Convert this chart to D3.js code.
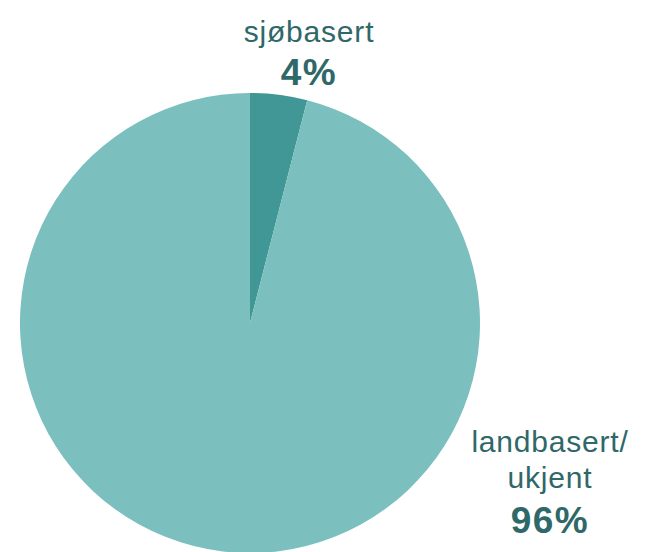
<!DOCTYPE html>
<html>
<head>
<meta charset="utf-8">
<script src="https://cdn.jsdelivr.net/npm/d3@7"></script>
<style>
  html, body { margin: 0; padding: 0; background: #fff; }
  svg { display: block; }
</style>
</head>
<body>
<svg id="chart" width="646" height="552"></svg>
<script>
const categories = ["sjøbasert", "landbasert/ukjent"];
const values = [4, 96];
const labelLines = [["sjøbasert"], ["landbasert/", "ukjent"]];
const percentLabels = ["4%", "96%"];
const colors = ["#419696", "#7bbfbf"];

const svg = d3.select("#chart");
const cx = 250, cy = 323, r = 230;

const pie = d3.pie().sort(null).value(d => d)(values);
const arc = d3.arc().innerRadius(0).outerRadius(r);
const color = d3.scaleOrdinal().domain(categories).range(colors);

const g = svg.append("g").attr("transform", `translate(${cx},${cy})`);
g.selectAll("path").data(pie).join("path")
  .attr("d", arc)
  .attr("fill", (d, i) => color(categories[i]));

const textColor = "#2f6868";
const labelPos = [
  { x: 309, lines: [42], pct: 85 },
  { x: 550, lines: [452, 488], pct: 533 }
];

labelPos.forEach((p, i) => {
  labelLines[i].forEach((t, j) => {
    svg.append("text")
      .attr("x", p.x).attr("y", p.lines[j])
      .attr("text-anchor", "middle")
      .style("font-family", "'Liberation Sans', Arial, sans-serif")
      .attr("font-size", 30)
      .attr("letter-spacing", 0.8)
      .attr("fill", textColor)
      .text(t);
  });
  svg.append("text")
    .attr("x", p.x).attr("y", p.pct)
    .attr("text-anchor", "middle")
    .style("font-family", "'Liberation Sans', Arial, sans-serif")
    .attr("font-size", 37)
    .attr("font-weight", "bold")
    .attr("letter-spacing", 1.5)
    .attr("fill", textColor)
    .text(percentLabels[i]);
});
</script>
</body>
</html>
